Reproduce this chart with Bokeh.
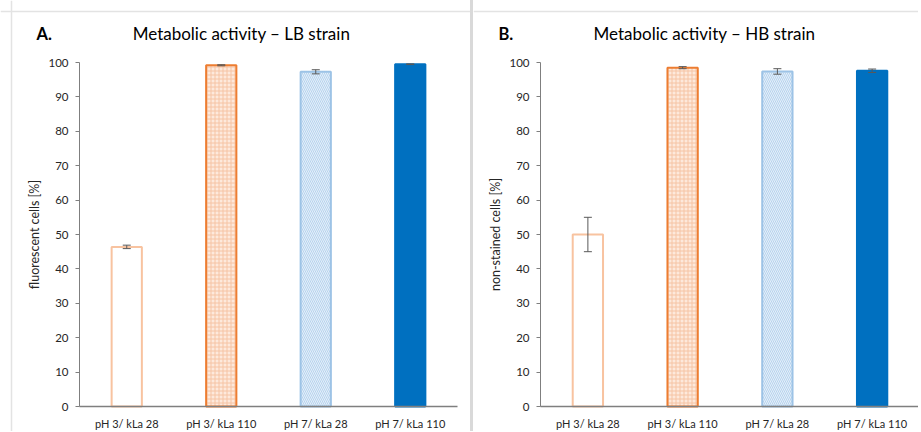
from bokeh.plotting import figure
from bokeh.models import (ColumnDataSource, Whisker, TeeHead, Label, FixedTicker, Range1d,
                          LinearAxis, Span)
from bokeh.core.properties import value
from bokeh.layouts import row
from bokeh.embed import file_html
from bokeh.resources import INLINE

# ---- data ----
categories = ["pH 3/ kLa 28", "pH 3/ kLa 110", "pH 7/ kLa 28", "pH 7/ kLa 110"]
lb_mean = [46.4, 99.2, 97.3, 99.5]
lb_err = [0.5, 0.15, 0.6, 0.1]
hb_mean = [50.0, 98.5, 97.4, 97.6]
hb_err = [5.0, 0.3, 0.8, 0.5]
y_ticks = [0, 10, 20, 30, 40, 50, 60, 70, 80, 90, 100]

fill_colors = ["#FFFFFF", "#FDE9DC", "#E4EFF9", "#0070C0"]
line_colors = ["#F8C3A0", "#ED7D31", "#9DC3E6", "#0070C0"]
hatch_patterns = [" ", "+", "\\", " "]
hatch_colors = ["#FFFFFF", "#F6C4A4", "#B7D3EE", "#0070C0"]

FONT = "Lato"
LABEL_FONT = value(FONT) if "text_font" in Label.dataspecs() else FONT
AXIS_COLOR = "#7F7F7F"
TEXT_COLOR = "#262626"
FRAME_COLOR = "#E3E3E3"

H = 431            # canvas height
Y_TOP_PX = 62      # pixel row of value 100
Y_ZERO_PX = 406    # pixel row of value 0
BORDER_PX = 11     # pixel row/column of the light outer frame line


def panel(letter, title, ylabel, means, errs, width, axis_px, cat_px, letter_px, title_px,
          left_border, styles):
    n = len(categories)
    xs = [i + 0.5 for i in range(n)]
    src = ColumnDataSource(dict(
        x=xs, val=means,
        upper=[m + e for m, e in zip(means, errs)],
        lower=[m - e for m, e in zip(means, errs)],
        fill=fill_colors, line=line_colors, hp=hatch_patterns, hc=hatch_colors,
    ))
    ppu = (Y_ZERO_PX - Y_TOP_PX) / 100.0
    x_range = Range1d(-axis_px / cat_px, (width - axis_px) / cat_px)
    y_range = Range1d(-(H - Y_ZERO_PX) / ppu, 100 + Y_TOP_PX / ppu)
    p = figure(x_range=x_range, y_range=y_range, width=width, height=H,
               output_backend="svg", toolbar_location=None,
               x_axis_type=None, y_axis_type=None,
               min_border_left=0, min_border_right=0, min_border_top=0, min_border_bottom=0)

    # light outer frame lines
    p.add_layout(Span(location=100 + (Y_TOP_PX - BORDER_PX) / ppu, dimension="width",
                      line_color=FRAME_COLOR, line_width=1.5))
    if left_border:
        p.add_layout(Span(location=(BORDER_PX - axis_px) / cat_px, dimension="height",
                          line_color=FRAME_COLOR, line_width=1.5))

    p.vbar(x="x", top="val", source=src, width=0.32, fill_color="fill", line_color="line",
           line_width=2, hatch_pattern="hp", hatch_color="hc", hatch_scale=4, hatch_weight=1)
    p.add_layout(Whisker(base="x", upper="upper", lower="lower", source=src, level="overlay",
                         line_color="#595959", line_width=1,
                         upper_head=TeeHead(size=8, line_color="#595959", line_width=1),
                         lower_head=TeeHead(size=8, line_color="#595959", line_width=1)))
    p.grid.visible = False
    p.outline_line_color = None
    p.background_fill_color = "white"
    p.border_fill_color = "white"

    yax = LinearAxis(fixed_location=0, bounds=(0, 100), ticker=FixedTicker(ticks=y_ticks))
    yax.axis_label = ylabel
    yax.axis_label_text_font = FONT
    yax.axis_label_text_font_style = "normal"
    yax.axis_label_text_font_size = "12.5px"
    yax.axis_label_text_color = TEXT_COLOR
    yax.axis_label_standoff = 3
    yax.major_label_text_font = FONT
    yax.major_label_text_font_size = "11.5px"
    yax.major_label_text_color = TEXT_COLOR
    yax.major_tick_out = 4
    yax.major_tick_in = 0
    yax.minor_tick_out = 0
    yax.minor_tick_in = 0
    yax.major_label_standoff = 7
    yax.axis_line_color = AXIS_COLOR
    yax.major_tick_line_color = AXIS_COLOR
    p.add_layout(yax, "left")

    xax = LinearAxis(fixed_location=0, bounds=(0, n), ticker=FixedTicker(ticks=xs),
                     major_label_overrides={x: c for x, c in zip(xs, categories)})
    xax.major_label_text_font = FONT
    xax.major_label_text_font_size = "11px"
    xax.major_label_text_color = TEXT_COLOR
    xax.major_tick_out = 0
    xax.major_tick_in = 0
    xax.minor_tick_out = 0
    xax.minor_tick_in = 0
    xax.major_label_standoff = 10
    xax.axis_line_color = AXIS_COLOR
    xax.axis_line_width = 1.5
    p.add_layout(xax, "below")

    title_y = 100 + (Y_TOP_PX - 33) / ppu
    p.add_layout(Label(x=(letter_px - axis_px) / cat_px, y=title_y, text=letter,
                       text_font=LABEL_FONT, text_font_style="bold",
                       text_font_size="16.5px", text_baseline="middle", text_color="#000000"))
    p.add_layout(Label(x=(title_px - axis_px) / cat_px, y=title_y, text=title,
                       text_font=LABEL_FONT, text_font_size="17px",
                       text_baseline="middle", text_align="center", text_color="#000000"))
    if styles:
        p.styles = styles
    return p


pA = panel("A.", "Metabolic activity \u2013 LB strain", "fluorescent cells [%]", lb_mean, lb_err,
           470, 79, 94.5, 36, 241, True, None)
pB = panel("B.", "Metabolic activity \u2013 HB strain", "non-stained cells [%]", hb_mean, hb_err,
           448, 67, 94.75, 25, 231, False, {"border-left": "3px solid #D9D9D9"})

layout = row(pA, pB)
open("out.html", "w").write(file_html(layout, INLINE))
